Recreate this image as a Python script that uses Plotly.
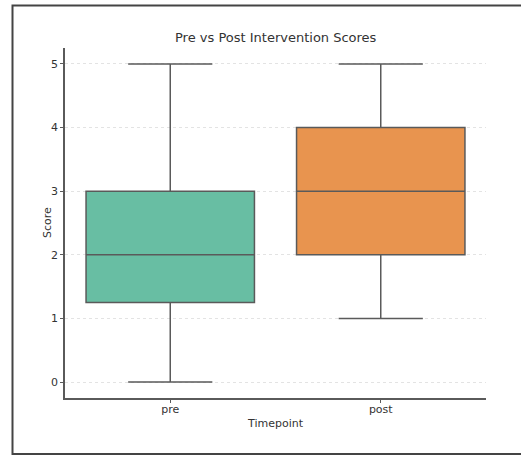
import plotly.graph_objects as go

# Box summary statistics per timepoint
timepoints = ["pre", "post"]
lower = [0, 1]
q1 = [1.25, 2]
median = [2, 3]
q3 = [3, 4]
upper = [5, 5]
fills = ["#68bea3", "#e8944f"]

y_ticks = [0, 1, 2, 3, 4, 5]

fig = go.Figure()
for i, tp in enumerate(timepoints):
    fig.add_trace(go.Box(
        x=[tp], q1=[q1[i]], median=[median[i]], q3=[q3[i]],
        lowerfence=[lower[i]], upperfence=[upper[i]],
        fillcolor=fills[i],
        line=dict(color="#5a5a5a", width=1.5),
        width=0.8, whiskerwidth=0.5,
        boxpoints=False, showlegend=False, hoverinfo="skip",
    ))

font = "DejaVu Sans, Arial, sans-serif"
L, R, T, B = 65, 35, 48, 57
W, H = 521, 455
pw, ph = W - L - R, H - T - B

def px(x):
    return (x - L) / pw

def py(y):
    return (H - B - y) / ph

def label(text, x, y, size, angle=0):
    return dict(
        text=text, xref="paper", yref="paper", x=x, y=y,
        xanchor="center", yanchor="middle", showarrow=False, textangle=angle,
        font=dict(family=font, size=size, color="#333333"),
    )

fig.update_layout(
    width=W, height=H,
    margin=dict(l=L, r=R, t=T, b=B),
    paper_bgcolor="white", plot_bgcolor="white",
    font=dict(family=font, size=11, color="#333333"),
    annotations=[
        label("Pre vs Post Intervention Scores", 0.5, py(37), 13),
        label("Timepoint", 0.5, py(423), 11),
        label("Score", px(47), 0.5, 11, angle=-90),
    ],
    xaxis=dict(
        type="category", categoryorder="array", categoryarray=timepoints,
        range=[-0.5, 1.5],
        showline=True, linecolor="#5a5a5a", linewidth=1.5,
        ticks="outside", ticklen=3, tickcolor="#5a5a5a",
        ticklabelstandoff=-3,
        showgrid=False, zeroline=False,
    ),
    yaxis=dict(
        range=[-0.25, 5.25], tickvals=y_ticks,
        showline=True, linecolor="#5a5a5a", linewidth=1.5,
        ticks="outside", ticklen=3, tickcolor="#5a5a5a",
        showgrid=True, gridcolor="#e3e3e3", griddash="dot", gridwidth=1,
        zeroline=False,
    ),
    shapes=[dict(
        type="rect", xref="paper", yref="paper",
        x0=px(12.5), x1=px(540), y0=py(454), y1=py(5.5),
        line=dict(color="#444444", width=2), fillcolor="rgba(0,0,0,0)",
        layer="above",
    )],
)

fig.write_html("out.html")
